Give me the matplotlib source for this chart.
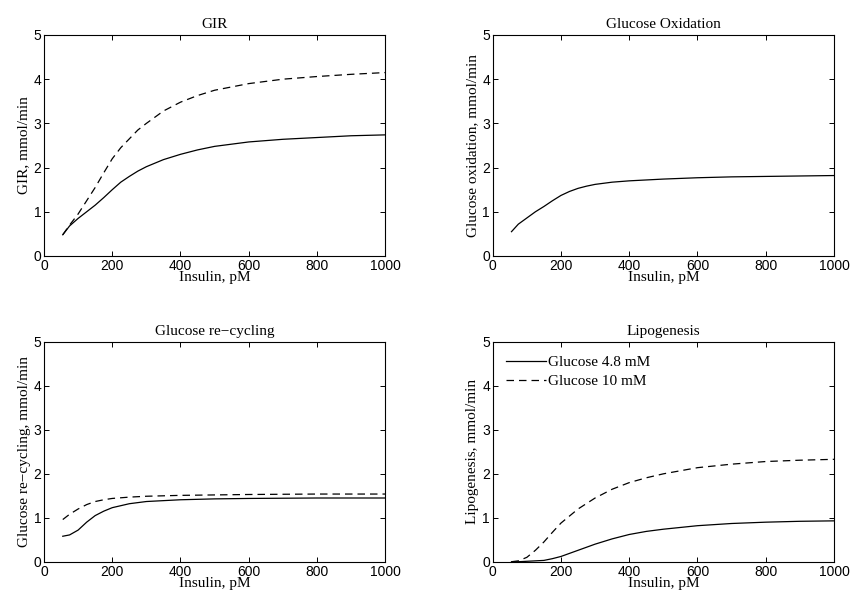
import matplotlib
matplotlib.use("Agg")
import matplotlib.pyplot as plt

# Insulin (pM) sample points
x_gir = [55, 75, 100, 125, 150, 175, 200, 225, 250, 275, 300, 350, 400, 450, 500, 600, 700, 800, 900, 1000]
gir_48 = [0.48, 0.68, 0.85, 1.0, 1.15, 1.32, 1.5, 1.67, 1.8, 1.92, 2.02, 2.18, 2.3, 2.4, 2.48, 2.58, 2.64, 2.68, 2.72, 2.74]
gir_10 = [0.48, 0.7, 0.95, 1.25, 1.55, 1.88, 2.2, 2.45, 2.65, 2.85, 3.0, 3.28, 3.48, 3.63, 3.75, 3.9, 4.0, 4.06, 4.11, 4.15]

x_ox = [55, 75, 100, 125, 150, 175, 200, 225, 250, 275, 300, 350, 400, 500, 600, 700, 800, 900, 1000]
ox_48 = [0.55, 0.72, 0.86, 1.0, 1.12, 1.25, 1.37, 1.46, 1.53, 1.58, 1.62, 1.67, 1.7, 1.74, 1.77, 1.79, 1.8, 1.81, 1.82]

x_rc = [55, 75, 100, 125, 150, 175, 200, 250, 300, 350, 400, 500, 600, 800, 1000]
rc_48 = [0.58, 0.61, 0.72, 0.9, 1.05, 1.15, 1.23, 1.32, 1.37, 1.39, 1.41, 1.43, 1.44, 1.45, 1.45]
rc_10 = [0.96, 1.08, 1.2, 1.3, 1.37, 1.41, 1.44, 1.47, 1.49, 1.5, 1.51, 1.52, 1.53, 1.54, 1.54]

x_lip = [55, 75, 100, 125, 150, 175, 200, 250, 300, 350, 400, 450, 500, 600, 700, 800, 900, 1000]
lip_48 = [0.0, 0.0, 0.01, 0.02, 0.03, 0.07, 0.12, 0.26, 0.4, 0.52, 0.62, 0.69, 0.74, 0.82, 0.87, 0.9, 0.92, 0.93]
lip_10 = [0.0, 0.02, 0.1, 0.26, 0.45, 0.67, 0.88, 1.2, 1.45, 1.65, 1.8, 1.91, 2.0, 2.14, 2.22, 2.28, 2.31, 2.33]

titles = ["GIR", "Glucose Oxidation", "Glucose re\u2212cycling", "Lipogenesis"]
ylabels = ["GIR, mmol/min", "Glucose oxidation, mmol/min",
           "Glucose re\u2212cycling, mmol/min", "Lipogenesis, mmol/min"]
xlabel = "Insulin, pM"
legend_labels = ["Glucose 4.8 mM", "Glucose 10 mM"]
xticks = [0, 200, 400, 600, 800, 1000]
yticks = [0, 1, 2, 3, 4, 5]

serif = "Liberation Serif"
sans = "Liberation Sans"

fig = plt.figure(figsize=(8.51, 5.96), dpi=100)
positions = [
    [0.0517, 0.5705, 0.401, 0.3708],
    [0.579, 0.5705, 0.401, 0.3708],
    [0.0517, 0.0575, 0.401, 0.3687],
    [0.579, 0.0575, 0.401, 0.3687],
]
axes = [fig.add_axes(p) for p in positions]

series = [
    [(x_gir, gir_48, "-"), (x_gir, gir_10, "--")],
    [(x_ox, ox_48, "-")],
    [(x_rc, rc_48, "-"), (x_rc, rc_10, "--")],
    [(x_lip, lip_48, "-"), (x_lip, lip_10, "--")],
]

for i, ax in enumerate(axes):
    lines = []
    for xs, ys, ls in series[i]:
        ln, = ax.plot(xs, ys, color="black", linestyle=ls, linewidth=0.9,
                      dashes=(6, 4) if ls == "--" else (None, None))
        lines.append(ln)
    ax.set_xlim(0, 1000)
    ax.set_ylim(0, 5)
    ax.set_xticks(xticks)
    ax.set_yticks(yticks)
    ax.tick_params(direction="in", top=True, right=True, length=3.5, width=0.7,
                   labelsize=10, pad=2)
    for lab in ax.get_xticklabels() + ax.get_yticklabels():
        lab.set_fontfamily(sans)
    for sp in ax.spines.values():
        sp.set_linewidth(0.8)
    ax.set_title(titles[i], fontfamily=serif, fontsize=11, pad=5)
    ax.set_xlabel(xlabel, fontfamily=serif, fontsize=11, labelpad=-1)
    ax.set_ylabel(ylabels[i], fontfamily=serif, fontsize=11, labelpad=2)
    if i == 3:
        ax.legend(lines, legend_labels, loc="upper left", frameon=False,
                  prop={"family": serif, "size": 11}, handlelength=2.6,
                  handletextpad=0.15, borderaxespad=0.5, labelspacing=0.35)

fig.savefig("out.png", dpi=100)
